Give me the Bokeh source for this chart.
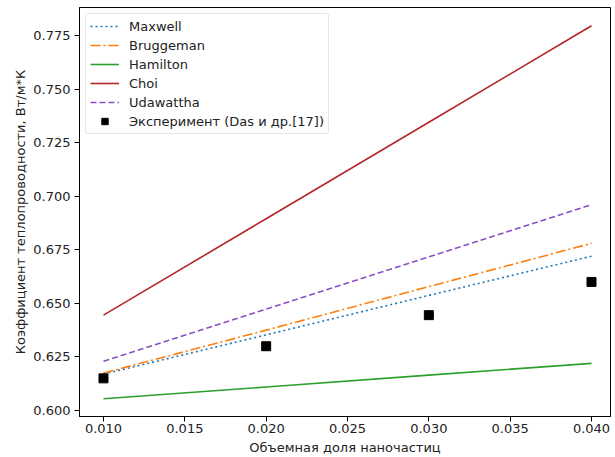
from bokeh.plotting import figure
from bokeh.models import ColumnDataSource, FixedTicker, Legend, LegendItem, Range1d, NumeralTickFormatter
from bokeh.embed import file_html
from bokeh.resources import INLINE

phi = [0.010, 0.020, 0.030, 0.040]
maxwell = [0.6170, 0.6353, 0.6537, 0.6720]
bruggeman = [0.6175, 0.6375, 0.6578, 0.6780]
hamilton = [0.6055, 0.6110, 0.6165, 0.6220]
choi = [0.6445, 0.6895, 0.7345, 0.7795]
udawattha = [0.6230, 0.6473, 0.6717, 0.6960]
experiment = [0.6150, 0.6300, 0.6445, 0.6600]

x_ticks = [0.010, 0.015, 0.020, 0.025, 0.030, 0.035, 0.040]
y_ticks = [0.600, 0.625, 0.650, 0.675, 0.700, 0.725, 0.750, 0.775]

FONT = "DejaVu Sans"

p = figure(width=615, height=457, output_backend="svg", toolbar_location=None,
           x_range=Range1d(0.008525, 0.041168), y_range=Range1d(0.59721, 0.78804),
           min_border_left=79, min_border_right=5, min_border_top=7, min_border_bottom=41)
p.xgrid.visible = False
p.ygrid.visible = False
p.outline_line_color = "black"
p.outline_line_width = 1
p.background_fill_color = "white"
p.border_fill_color = "white"

src = ColumnDataSource(dict(x=phi, maxwell=maxwell, bruggeman=bruggeman, hamilton=hamilton,
                            choi=choi, udawattha=udawattha, exp=experiment))

r1 = p.line("x", "maxwell", source=src, line_color="#1f77b4", line_width=1.6, line_dash="2 3")
r2 = p.line("x", "bruggeman", source=src, line_color="#ff7f0e", line_width=1.6, line_dash="10 3 2 3")
r3 = p.line("x", "hamilton", source=src, line_color="#2ca02c", line_width=1.6)
r4 = p.line("x", "choi", source=src, line_color="#b5262b", line_width=1.6)
r5 = p.line("x", "udawattha", source=src, line_color="#8750c0", line_width=1.6, line_dash="6 3")
r6 = p.scatter("x", "exp", source=src, marker="square", size=9, fill_color="black", line_color="black")

for ax in (p.xaxis[0], p.yaxis[0]):
    ax.major_label_text_font = FONT
    ax.major_label_text_font_size = "13px"
    ax.major_label_text_color = "#222222"
    ax.axis_label_text_font = FONT
    ax.axis_label_text_font_size = "13px"
    ax.axis_label_text_font_style = "normal"
    ax.axis_label_text_color = "#222222"
    ax.minor_tick_line_color = None
    ax.major_tick_out = 5
    ax.major_tick_in = 0
    ax.axis_line_color = "black"
    ax.formatter = NumeralTickFormatter(format="0.000")

p.xaxis.ticker = FixedTicker(ticks=x_ticks)
p.yaxis.ticker = FixedTicker(ticks=y_ticks)
p.xaxis.axis_label = "Объемная доля наночастиц"
p.yaxis.axis_label = "Коэффициент теплопроводности, Вт/м*К"
p.xaxis.major_label_standoff = 2
p.yaxis.major_label_standoff = 4
p.xaxis.axis_label_standoff = 4
p.yaxis.axis_label_standoff = 2

legend = Legend(items=[
    LegendItem(label="Maxwell", renderers=[r1]),
    LegendItem(label="Bruggeman", renderers=[r2]),
    LegendItem(label="Hamilton", renderers=[r3]),
    LegendItem(label="Choi", renderers=[r4]),
    LegendItem(label="Udawattha", renderers=[r5]),
    LegendItem(label="Эксперимент (Das и др.[17])", renderers=[r6]),
], location="top_left")
legend.label_text_font = FONT
legend.label_text_font_size = "13px"
legend.label_text_color = "#222222"
legend.glyph_height = 16
legend.glyph_width = 29
legend.label_height = 16
legend.spacing = 3
legend.padding = 4
legend.margin = 6
legend.label_standoff = 10
legend.border_line_color = "#cccccc"
legend.border_line_width = 1
legend.border_radius = 3
legend.background_fill_alpha = 0.8
p.add_layout(legend)

open("out.html", "w").write(file_html(p, INLINE))
